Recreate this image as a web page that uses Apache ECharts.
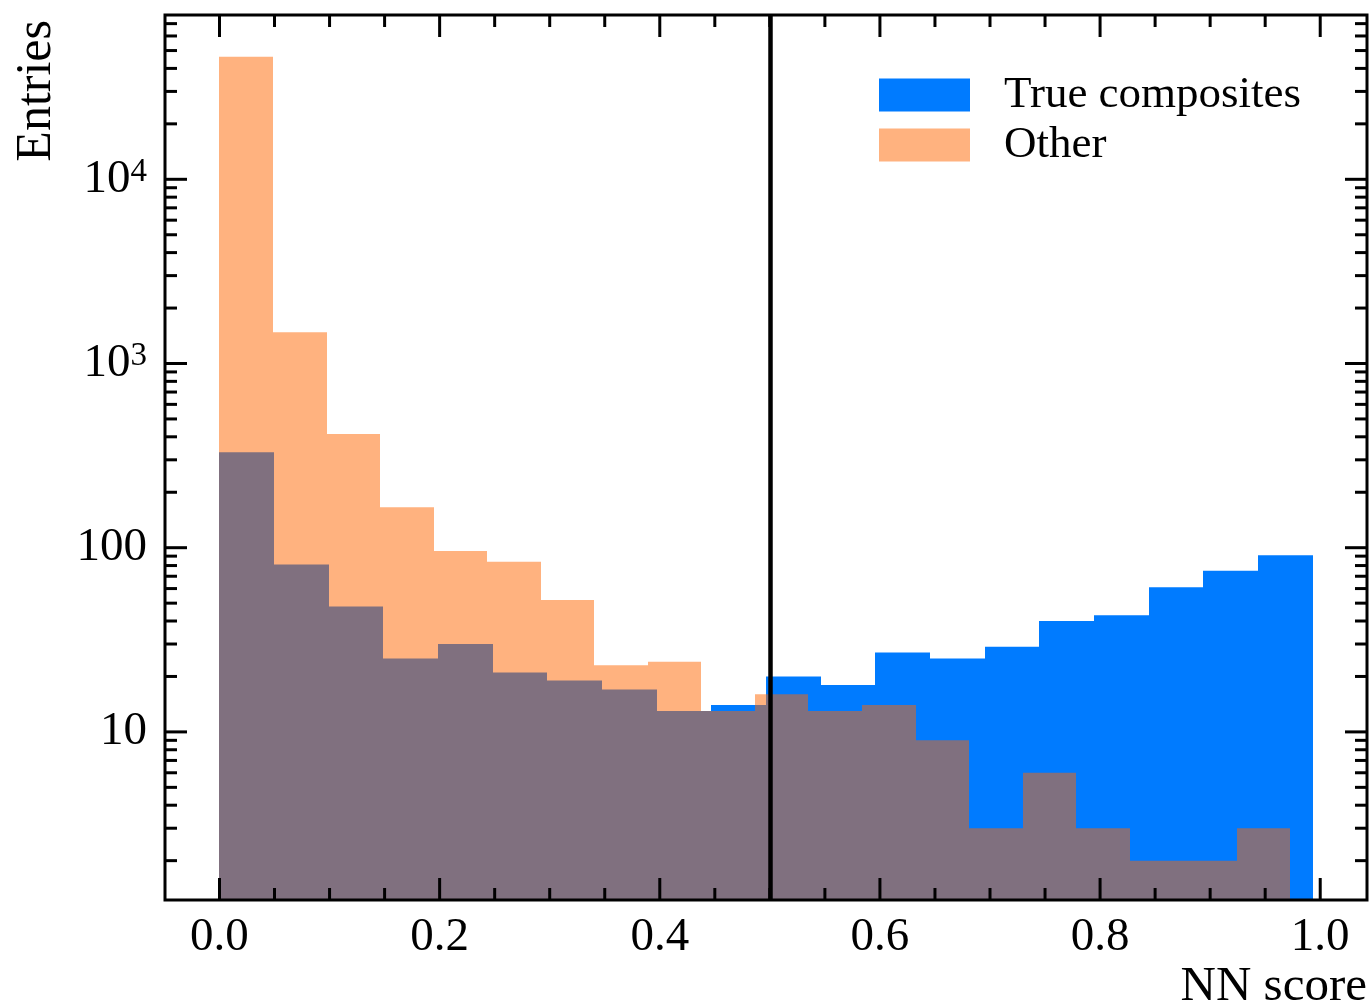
<!DOCTYPE html>
<html>
<head>
    <meta charset="utf-8">
    <title>NN score</title>
    <script src="https://cdn.jsdelivr.net/npm/echarts@6/dist/echarts.min.js"></script>
    <style>
        html, body { margin: 0; padding: 0; background: #fff; }
        #chart { width: 1372px; height: 1006px; }
    </style>
</head>
<body>
<div id="chart"></div>
<script type="text/javascript">
    // counts per bin (20 bins each)
    var trueCounts = [330, 81, 48, 25, 30, 21, 19, 17, 13, 14, 20, 18, 27, 25, 29, 40, 43, 61, 75, 91];
    var otherCounts = [46300, 1480, 414, 166, 96, 84, 52, 23, 24, 13, 16, 13, 14, 9, 3, 6, 3, 2, 2, 3];
    var trueRange = [0, 0.993];
    var otherRange = [0, 0.9728];
    var cutValue = 0.5;

    // axes
    var xRange = [-0.0495, 1.0425];
    var yRange = [1.223, 77980];
    var xMajorTicks = [0, 0.2, 0.4, 0.6, 0.8, 1.0];
    var xTickLabels = ['0.0', '0.2', '0.4', '0.6', '0.8', '1.0'];
    var xMinorTicks = [0.05, 0.1, 0.15, 0.25, 0.3, 0.35, 0.45, 0.5, 0.55, 0.65, 0.7, 0.75, 0.85, 0.9, 0.95];
    var yMajorTicks = [10, 100, 1000, 10000];
    var yTickLabels = ['10', '100', '{b|10}{s|3}', '{b|10}{s|4}'];
    var yMinorTicks = [2, 3, 4, 5, 6, 7, 8, 9,
        20, 30, 40, 50, 60, 70, 80, 90,
        200, 300, 400, 500, 600, 700, 800, 900,
        2000, 3000, 4000, 5000, 6000, 7000, 8000, 9000,
        20000, 30000, 40000, 50000, 60000, 70000];

    var FONT = '"Liberation Serif", "Times New Roman", serif';
    var BLUE = '#007bff';
    var ORANGE = 'rgba(255, 102, 0, 0.5)';

    function toBins(counts, range) {
        var w = (range[1] - range[0]) / counts.length;
        return counts.map(function (c, i) {
            return [range[0] + i * w, range[0] + (i + 1) * w, c];
        });
    }

    function findTick(list, v, rel) {
        for (var i = 0; i < list.length; i++) {
            var d = Math.abs(v - list[i]);
            if (rel ? d / list[i] < 1e-6 : d < 1e-6) return i;
        }
        return -1;
    }

    function renderBar(color) {
        return function (params, api) {
            var tl = api.coord([api.value(0), api.value(2)]);
            var br = api.coord([api.value(1), yRange[0]]);
            // snap x edges so neighbouring bins share a pixel edge (no seams)
            var x0 = Math.round(tl[0]), x1 = Math.round(br[0]);
            return {
                type: 'rect',
                shape: { x: x0, y: tl[1], width: x1 - x0, height: br[1] - tl[1] },
                style: { fill: color }
            };
        };
    }

    // ticks on all four sides + frame
    var tickData = [];
    xMajorTicks.forEach(function (v) { tickData.push([v, yRange[0], 0]); });
    xMinorTicks.forEach(function (v) { tickData.push([v, yRange[0], 1]); });
    yMajorTicks.forEach(function (v) { tickData.push([xRange[0], v, 2]); });
    yMinorTicks.forEach(function (v) { tickData.push([xRange[0], v, 3]); });
    tickData.push([xRange[0], yRange[0], 4]);

    function renderTick(params, api) {
        var cs = params.coordSys;
        var kind = api.value(2);
        var st = { stroke: '#000', lineWidth: 3 };
        if (kind === 4) {
            return {
                type: 'rect',
                shape: { x: cs.x, y: cs.y, width: cs.width, height: cs.height },
                style: { fill: 'none', stroke: '#000', lineWidth: 3 }
            };
        }
        var p = api.coord([api.value(0), api.value(1)]);
        var len = (kind === 0 || kind === 2) ? 22 : 12;
        if (kind < 2) {
            var bottom = cs.y + cs.height;
            return {
                type: 'group', children: [
                    { type: 'line', shape: { x1: p[0], y1: bottom, x2: p[0], y2: bottom - len }, style: st },
                    { type: 'line', shape: { x1: p[0], y1: cs.y, x2: p[0], y2: cs.y + len }, style: st }
                ]
            };
        }
        var right = cs.x + cs.width;
        return {
            type: 'group', children: [
                { type: 'line', shape: { x1: cs.x, y1: p[1], x2: cs.x + len, y2: p[1] }, style: st },
                { type: 'line', shape: { x1: right, y1: p[1], x2: right - len, y2: p[1] }, style: st }
            ]
        };
    }

    var myChart = echarts.init(document.getElementById('chart'));

    myChart.setOption({
        animation: false,
        backgroundColor: '#fff',
        grid: { left: 165, top: 15, right: 5, bottom: 106, outerBoundsMode: 'none' },
        xAxis: {
            type: 'value',
            min: xRange[0],
            max: xRange[1],
            axisLine: { show: false },
            axisTick: { show: false },
            splitLine: { show: false },
            axisLabel: {
                fontFamily: FONT,
                fontSize: 47,
                color: '#000',
                margin: 14,
                formatter: function (v) {
                    var i = findTick(xMajorTicks, v, false);
                    return i < 0 ? '' : xTickLabels[i];
                }
            }
        },
        yAxis: {
            type: 'log',
            logBase: 10,
            min: yRange[0],
            max: yRange[1],
            axisLine: { show: false },
            axisTick: { show: false },
            splitLine: { show: false },
            axisLabel: {
                fontFamily: FONT,
                fontSize: 47,
                color: '#000',
                margin: 18,
                formatter: function (v) {
                    var i = findTick(yMajorTicks, v, true);
                    return i < 0 ? '' : yTickLabels[i];
                },
                rich: {
                    b: { fontFamily: FONT, fontSize: 47, color: '#000' },
                    s: { fontFamily: FONT, fontSize: 33, color: '#000', verticalAlign: 'top' }
                }
            }
        },
        legend: {
            orient: 'vertical',
            left: 879,
            top: 70,
            padding: 0,
            icon: 'rect',
            itemWidth: 91,
            itemHeight: 33,
            itemGap: 0,
            selectedMode: false,
            data: ['True composites', 'Other'],
            textStyle: {
                fontFamily: FONT,
                fontSize: 45,
                color: '#000',
                lineHeight: 50,
                padding: [0, 0, 0, 29]
            }
        },
        graphic: [
            {
                type: 'text', x: 37, y: 20, rotation: Math.PI / 2,
                style: { text: 'Entries', font: '50px ' + FONT, fill: '#000', align: 'right', verticalAlign: 'middle', textAlign: 'right', textVerticalAlign: 'middle' }
            },
            {
                type: 'text', x: 1367, y: 987,
                style: { text: 'NN score', font: '49px ' + FONT, fill: '#000', align: 'right', verticalAlign: 'middle', textAlign: 'right', textVerticalAlign: 'middle' }
            }
        ],
        series: [
            {
                name: 'True composites',
                type: 'custom',
                renderItem: renderBar(BLUE),
                itemStyle: { color: BLUE },
                encode: { x: [0, 1], y: 2 },
                data: toBins(trueCounts, trueRange),
                silent: true
            },
            {
                name: 'Other',
                type: 'custom',
                renderItem: renderBar(ORANGE),
                itemStyle: { color: ORANGE },
                encode: { x: [0, 1], y: 2 },
                data: toBins(otherCounts, otherRange),
                silent: true,
                markLine: {
                    silent: true,
                    symbol: 'none',
                    label: { show: false },
                    lineStyle: { color: '#000', width: 4.5, type: 'solid' },
                    data: [{ xAxis: cutValue }]
                }
            },
            {
                type: 'custom',
                renderItem: renderTick,
                encode: { x: 0, y: 1 },
                data: tickData,
                silent: true,
                z: 10
            }
        ]
    });
</script>
</body>
</html>
